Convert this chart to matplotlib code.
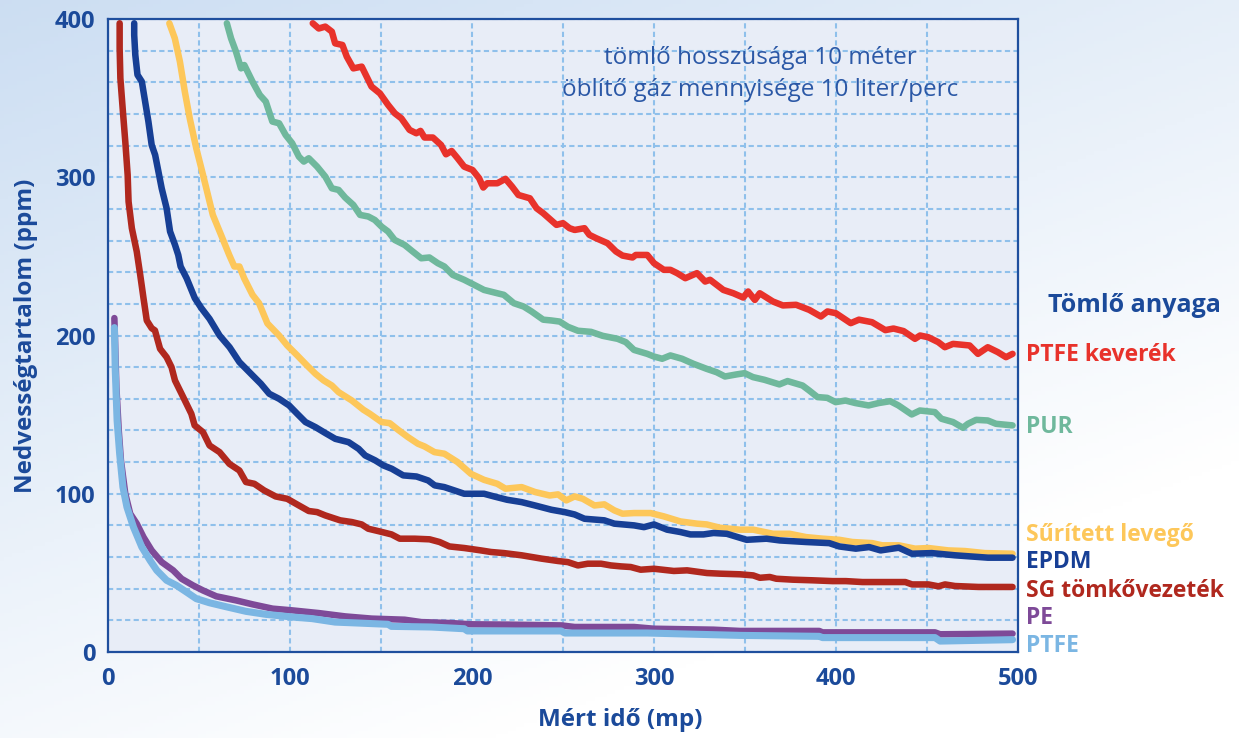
import numpy as np
import matplotlib
matplotlib.use("Agg")
import matplotlib.pyplot as plt

plt.rcParams['font.family'] = ['Open Sans', 'DejaVu Sans']

# --- data ---
ptfe_kev_x = [112.5, 115.8, 119.4, 123.0, 124.8, 128.8, 131.2, 134.8, 139.4, 141.2,
              144.8, 149.4, 153.9, 157.6, 161.2, 165.7, 169.4, 171.7, 173.9, 178.5,
              183.0, 185.7, 188.8, 192.1, 195.7, 200.3, 203.9, 206.2, 208.4, 213.9,
              218.4, 222.0, 225.5, 231.8, 235.5, 239.1, 246.4, 250.0, 253.6, 256.4,
              261.8, 264.5, 268.2, 274.5, 279.1, 282.7, 288.2, 290.0, 296.3, 300.0,
              305.4, 309.0, 312.7, 317.2, 323.6, 328.1, 330.8, 338.1, 343.6, 349.0,
              351.7, 355.4, 358.1, 365.3, 370.8, 378.1, 385.3, 391.7, 395.3, 399.9,
              408.1, 412.6, 419.8, 427.1, 431.6, 437.1, 443.4, 446.2, 450.7, 456.2,
              459.8, 464.3, 473.4, 478.0, 483.4, 488.9, 493.4, 497.0]
ptfe_kev_y = [397.3, 394.0, 395.2, 392.0, 384.6, 383.6, 376.2, 368.8, 369.9, 365.7,
              357.3, 353.0, 345.7, 340.4, 337.2, 329.9, 327.8, 329.3, 325.1, 325.1,
              320.4, 314.5, 316.6, 312.0, 306.7, 304.6, 299.4, 293.5, 296.2, 296.2,
              299.0, 294.1, 288.8, 286.7, 280.4, 277.3, 269.9, 271.0, 267.8, 266.7,
              267.8, 263.6, 261.5, 258.3, 253.1, 250.5, 249.3, 250.9, 250.9, 245.7,
              241.5, 241.5, 239.4, 236.2, 239.4, 234.1, 235.2, 228.8, 226.7, 224.0,
              227.8, 222.5, 226.7, 221.5, 219.0, 219.4, 216.2, 212.0, 215.2, 214.1,
              207.8, 210.0, 208.4, 203.4, 204.4, 202.8, 197.9, 200.0, 198.9, 195.8,
              192.6, 194.7, 193.7, 188.4, 192.6, 189.5, 186.3, 188.4]

pur_x = [65.3, 67.6, 70.3, 73.1, 74.9, 79.4, 83.4, 86.7, 90.3, 94.0,
         97.6, 101.2, 104.9, 107.6, 110.3, 114.9, 119.4, 123.0, 126.7, 130.3,
         134.8, 138.5, 143.0, 146.6, 150.3, 153.9, 157.5, 163.0, 167.5, 172.1,
         176.6, 181.2, 184.8, 189.4, 195.7, 201.2, 206.6, 213.9, 217.5, 223.0,
         228.4, 232.7, 239.1, 243.6, 248.2, 252.7, 258.2, 265.4, 271.8, 280.0,
         284.5, 289.0, 296.3, 300.0, 304.5, 309.0, 315.4, 321.7, 329.0, 334.4,
         339.0, 345.3, 349.8, 354.4, 360.7, 368.9, 373.4, 381.6, 385.2, 389.8,
         395.2, 399.8, 405.2, 410.7, 417.9, 423.4, 429.8, 434.3, 441.6, 446.1,
         454.3, 457.9, 464.3, 469.7, 472.5, 477.0, 483.4, 487.9, 497.0]
pur_y = [397.3, 387.8, 379.4, 368.8, 370.9, 360.4, 352.0, 347.8, 335.2, 334.1,
         326.7, 321.5, 313.0, 309.9, 312.0, 306.7, 300.4, 293.0, 292.0, 287.2,
         282.5, 276.2, 275.2, 273.0, 268.8, 265.7, 260.4, 257.2, 253.0, 248.8,
         249.3, 245.7, 243.6, 238.3, 235.2, 232.0, 228.8, 226.7, 225.7, 220.4,
         218.3, 215.2, 210.0, 209.5, 208.8, 205.5, 203.0, 202.3, 199.8, 197.9,
         195.8, 190.9, 188.4, 186.7, 185.3, 187.4, 185.3, 182.1, 178.9, 176.8,
         174.1, 175.4, 176.2, 173.7, 172.0, 169.1, 171.2, 168.4, 165.3, 161.1,
         160.6, 157.9, 158.9, 157.3, 155.8, 157.3, 158.5, 155.8, 150.1, 152.6,
         151.6, 147.4, 145.3, 141.7, 144.2, 146.7, 146.3, 144.2, 143.2]

levego_x = [33.7, 36.7, 39.5, 42.2, 44.9, 48.5, 52.2, 55.8, 57.6, 62.1,
            66.6, 69.4, 72.2, 74.8, 79.4, 83.0, 87.6, 94.0, 98.5, 104.0,
            109.4, 114.0, 118.5, 123.0, 126.7, 134.0, 140.3, 143.9, 150.3, 154.8,
            159.4, 164.8, 170.3, 173.9, 179.4, 184.8, 192.1, 199.4, 206.6, 213.9,
            218.4, 227.3, 234.6, 242.7, 247.3, 251.8, 256.4, 260.9, 267.3, 272.7,
            278.2, 282.7, 289.1, 298.1, 305.4, 314.5, 323.6, 329.0, 336.3, 347.2,
            354.5, 365.4, 374.5, 383.6, 392.7, 401.8, 409.0, 419.9, 425.4, 434.5,
            443.5, 450.8, 461.7, 470.8, 481.7, 497.0]
levego_y = [397.3, 387.8, 373.1, 354.1, 337.3, 318.3, 301.5, 284.6, 276.2, 263.6,
            250.9, 243.6, 243.6, 236.2, 225.7, 220.4, 207.6, 200.0, 193.7, 187.4,
            181.0, 175.8, 171.6, 168.4, 164.2, 158.9, 153.1, 150.5, 145.3, 144.6,
            140.4, 135.8, 131.6, 129.9, 126.3, 125.3, 120.0, 112.6, 108.8, 106.3,
            103.2, 104.2, 101.1, 98.9, 99.6, 95.8, 98.3, 96.8, 92.6, 93.3,
            89.5, 87.4, 87.8, 87.8, 85.7, 82.5, 81.1, 80.6, 78.5, 77.3,
            77.3, 74.7, 74.7, 72.6, 71.6, 70.9, 69.5, 68.8, 67.4, 67.4,
            65.3, 65.7, 64.2, 63.8, 62.5, 62.1]

epdm_x = [14.4, 14.4, 15.0, 16.2, 18.6, 20.4, 22.2, 24.0, 25.9, 27.7,
          29.5, 32.2, 34.1, 36.8, 38.6, 39.9, 43.2, 47.7, 51.3, 55.8,
          61.3, 66.8, 72.2, 79.5, 84.0, 88.6, 94.0, 99.5, 104.0, 108.5,
          114.0, 119.5, 124.9, 132.2, 137.7, 141.3, 146.8, 151.3, 155.9, 162.2,
          169.5, 175.9, 179.5, 184.8, 190.3, 195.7, 206.6, 212.1, 219.3, 227.3,
          234.6, 243.6, 250.9, 256.4, 261.8, 272.7, 278.2, 289.1, 294.5, 300.0,
          307.2, 314.5, 320.0, 327.2, 332.7, 340.0, 350.9, 361.8, 369.1, 383.6,
          396.3, 401.8, 410.9, 418.2, 424.5, 434.5, 441.7, 452.6, 465.4, 483.5,
          497.0]
epdm_y = [397.3, 389.9, 377.3, 364.7, 360.4, 347.8, 335.2, 320.4, 314.1, 303.6,
          293.0, 280.4, 265.7, 257.3, 250.9, 243.6, 236.2, 223.6, 217.3, 210.5,
          200.0, 192.6, 183.2, 174.7, 169.5, 163.2, 160.0, 155.8, 150.5, 145.3,
          142.1, 138.3, 134.7, 132.6, 128.4, 124.2, 121.1, 117.9, 115.8, 111.6,
          110.9, 108.4, 105.3, 104.2, 102.1, 100.0, 100.0, 98.3, 96.2, 94.7,
          92.6, 89.9, 88.4, 86.9, 84.2, 83.2, 81.1, 80.0, 78.9, 80.6,
          77.3, 75.8, 74.3, 74.3, 75.2, 74.7, 70.9, 71.6, 70.5, 69.5,
          68.8, 66.7, 65.3, 66.3, 64.2, 65.9, 62.1, 62.5, 61.1, 59.6,
          59.6]

sg_x = [6.4, 6.4, 6.8, 8.2, 9.5, 10.8, 11.3, 13.1, 15.8, 17.7,
        19.5, 21.3, 24.0, 25.8, 28.6, 32.2, 34.9, 36.8, 41.3, 45.8,
        47.6, 52.2, 55.8, 61.3, 66.7, 72.2, 75.8, 80.4, 85.8, 92.1,
        98.5, 104.9, 110.3, 114.9, 119.4, 127.6, 134.0, 139.4, 143.0, 148.5,
        155.8, 160.3, 168.5, 176.7, 182.2, 187.6, 195.8, 204.9, 210.4, 217.6,
        227.3, 238.2, 247.3, 252.7, 258.2, 263.6, 270.9, 276.3, 281.8, 287.2,
        292.7, 300.0, 310.9, 318.2, 329.1, 336.3, 347.2, 354.5, 358.2, 363.6,
        367.2, 376.3, 387.2, 398.1, 405.4, 414.5, 425.4, 438.1, 441.8, 450.8,
        456.3, 459.9, 465.4, 478.2, 497.0]
sg_y = [397.3, 381.5, 362.5, 341.4, 322.5, 301.5, 284.6, 267.8, 253.0, 238.3,
        223.6, 209.5, 204.6, 203.2, 191.6, 186.3, 180.0, 171.6, 161.1, 150.5,
        143.2, 138.9, 130.5, 126.3, 118.9, 114.7, 107.4, 106.3, 102.1, 98.3,
        96.8, 92.6, 89.1, 88.4, 86.3, 83.2, 82.1, 80.6, 77.9, 76.4,
        74.3, 71.6, 71.6, 71.2, 69.5, 66.7, 65.7, 64.2, 63.2, 62.5,
        61.1, 59.0, 57.5, 56.8, 54.7, 55.8, 55.8, 54.7, 54.1, 53.7,
        52.0, 52.6, 51.2, 51.6, 49.9, 49.5, 49.1, 48.4, 46.9, 47.4,
        46.3, 45.7, 45.3, 44.8, 44.8, 44.2, 44.2, 44.2, 42.7, 42.7,
        41.5, 42.7, 41.7, 41.1, 41.1]

pe_x = [3.5, 4.6, 5.9, 7.1, 9.5, 12.2, 15.8, 19.5, 24.0, 29.5,
        35.8, 40.4, 46.7, 52.2, 59.5, 70.4, 79.5, 90.4, 101.3, 115.8,
        130.3, 144.9, 163.0, 172.1, 188.4, 199.3, 220.0, 249.1, 256.4, 289.0,
        300.0, 332.7, 347.2, 390.8, 392.6, 454.4, 457.2, 497.0]
pe_y = [211.0, 167.4, 140.0, 121.1, 100.0, 87.4, 81.1, 72.6, 64.2, 56.8,
        51.6, 46.3, 42.1, 38.9, 35.2, 32.6, 30.1, 27.4, 26.3, 24.6,
        22.5, 21.1, 20.4, 18.9, 18.3, 17.5, 17.3, 16.8, 15.8, 15.8,
        14.7, 14.1, 13.3, 13.3, 12.4, 12.4, 11.2, 11.6]

ptfe_x = [3.5, 4.0, 5.0, 6.4, 8.2, 10.4, 14.0, 18.6, 23.1, 26.8,
          32.2, 37.6, 43.1, 48.5, 55.8, 64.9, 75.8, 86.7, 101.3, 112.1,
          124.8, 137.6, 153.9, 155.7, 177.5, 195.7, 197.5, 228.4, 249.0, 251.0,
          296.3, 347.2, 390.8, 392.6, 454.4, 457.2, 497.0]
ptfe_y = [205.0, 177.9, 146.3, 125.3, 104.2, 91.6, 78.9, 66.3, 57.9, 51.6,
          45.3, 42.1, 37.9, 33.7, 31.1, 28.6, 25.7, 23.8, 22.1, 21.1,
          18.9, 18.3, 17.5, 16.2, 15.8, 14.7, 13.3, 13.3, 13.3, 12.0,
          12.0, 10.5, 9.9, 9.1, 9.1, 6.9, 7.8]

navy = '#1b4a9a'

fig = plt.figure(figsize=(12.39, 7.38), dpi=100)

# background gradient
bg = fig.add_axes([0, 0, 1, 1], zorder=-10)
yy, xx = np.mgrid[0:1:200j, 0:1:300j]
t = np.clip(0.8 * yy + 0.5 * xx, 0, 1)
top = np.array([0.80, 0.87, 0.95])
img = top[None, None, :] * (1 - t[..., None]) + np.ones(3)[None, None, :] * t[..., None]
bg.imshow(img, aspect='auto', extent=[0, 1, 0, 1], origin='upper')
bg.axis('off')

ax = fig.add_axes([108 / 1239, 1 - 652 / 738, 910 / 1239, 633 / 738])
ax.set_facecolor('#e8edf7')

lw = 4.7
ax.plot(pur_x, pur_y, color='#6fb89c', lw=lw, solid_capstyle='round', solid_joinstyle='round')
ax.plot(ptfe_kev_x, ptfe_kev_y, color='#e8322b', lw=lw, solid_capstyle='round', solid_joinstyle='round')
ax.plot(levego_x, levego_y, color='#fdc75a', lw=lw, solid_capstyle='round', solid_joinstyle='round')
ax.plot(epdm_x, epdm_y, color='#173f95', lw=lw, solid_capstyle='round', solid_joinstyle='round')
ax.plot(sg_x, sg_y, color='#b0281e', lw=lw, solid_capstyle='round', solid_joinstyle='round')
ax.plot(pe_x, pe_y, color='#7e4a98', lw=lw, solid_capstyle='round', solid_joinstyle='round')
ax.plot(ptfe_x, ptfe_y, color='#7bb6e3', lw=5.1, solid_capstyle='round', solid_joinstyle='round')

ax.set_xlim(0, 500)
ax.set_ylim(0, 400)
ax.set_xticks([0, 100, 200, 300, 400, 500])
ax.set_yticks([0, 100, 200, 300, 400])
ax.set_xticks(np.arange(50, 500, 50), minor=True)
ax.set_yticks(np.arange(20, 400, 20), minor=True)
ax.grid(True, which='both', color='#8fc0eb', lw=1.5, ls=(0, (2.5, 1.6)))
ax.set_axisbelow(True)
ax.tick_params(which='both', length=0)
ax.tick_params(axis='x', pad=11)
ax.tick_params(axis='y', pad=9)
for lab in ax.get_xticklabels() + ax.get_yticklabels():
    lab.set_fontsize(17)
    lab.set_fontweight('bold')
    lab.set_color(navy)
for s in ax.spines.values():
    s.set_color('#1f4f9e')
    s.set_linewidth(1.6)

ax.set_ylabel('Nedvességtartalom (ppm)', fontsize=17.5, fontweight='bold', color=navy, labelpad=12)
fig.text(620 / 1239, 1 - 720 / 738, 'Mért idő (mp)', ha='center', va='center',
         fontsize=17.5, fontweight='bold', color=navy)

fig.text(760 / 1239, 1 - 58 / 738, 'tömlő hosszúsága 10 méter', ha='center', va='center',
         fontsize=17.5, color='#2b58a6')
fig.text(760 / 1239, 1 - 90 / 738, 'öblítő gáz mennyisége 10 liter/perc', ha='center', va='center',
         fontsize=17.5, color='#2b58a6')

fig.text(1048 / 1239, 1 - 306 / 738, 'Tömlő anyaga', ha='left', va='center',
         fontsize=18, fontweight='bold', color=navy)
labels = [('PTFE keverék', 355, '#e8322b'), ('PUR', 427, '#6fb89c'),
          ('Sűrített levegő', 535, '#fdc75a'), ('EPDM', 562, '#173f95'),
          ('SG tömkővezeték', 591, '#b0281e'), ('PE', 618, '#7e4a98'),
          ('PTFE', 646, '#7bb6e3')]
for txt, py, c in labels:
    fig.text(1026 / 1239, 1 - py / 738, txt, ha='left', va='center',
             fontsize=16.5, fontweight='bold', color=c)

fig.savefig('out.png', dpi=100)
